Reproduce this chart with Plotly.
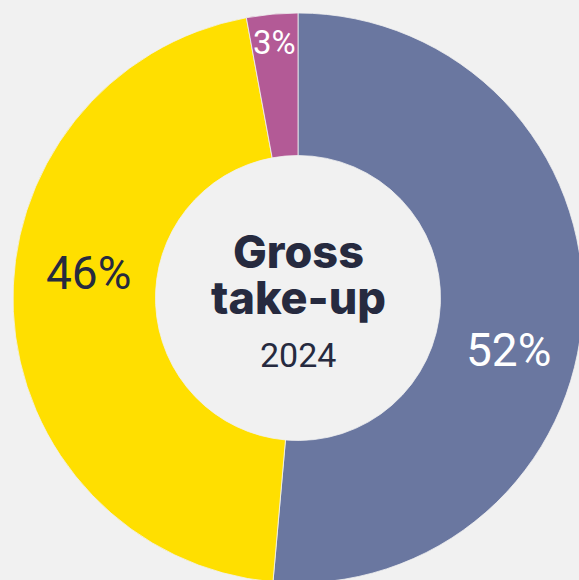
import plotly.graph_objects as go

categories = ["Segment A", "Segment B", "Segment C"]
values = [51.4, 45.7, 2.9]
labels_text = ["52%", "46%", "3%"]
colors = ["#6a77a0", "#ffdf00", "#b35a96"]
label_colors = ["#ffffff", "#262a3f", "#ffffff"]
label_sizes = [46, 46, 33]
# label anchor points in picture pixels (x, y from top)
label_px = [(508, 350), (88, 273), (274, 42)]
title_lines = ["Gross", "take-up"]
subtitle = "2024"

W, H = 600, 600
cx, cy, R = 298, 298, 285

fig = go.Figure(go.Pie(
    labels=categories,
    values=values,
    hole=0.5,
    sort=False,
    direction="clockwise",
    rotation=0,
    marker=dict(colors=colors, line=dict(color="#f1f1f1", width=0.8)),
    textinfo="none",
    hoverinfo="label+percent",
    showlegend=False,
    domain=dict(x=[(cx - R) / W, (cx + R) / W],
                y=[(H - cy - R) / H, (H - cy + R) / H]),
))

annotations = []
for t, c, s, (px, py) in zip(labels_text, label_colors, label_sizes, label_px):
    annotations.append(dict(
        x=px / W, y=1 - py / H, xref="paper", yref="paper",
        text=t, showarrow=False, font=dict(family="Roboto", size=s, color=c),
        xanchor="center", yanchor="middle"))

for line, py in zip(title_lines, [252, 298]):
    annotations.append(dict(
        x=cx / W, y=1 - py / H, xref="paper", yref="paper",
        text=line, showarrow=False,
        font=dict(family="Inter", size=45, color="#262a3f", weight=800),
        xanchor="center", yanchor="middle", borderpad=0))
annotations.append(dict(
    x=cx / W, y=1 - 355 / H, xref="paper", yref="paper",
    text=subtitle, showarrow=False,
    font=dict(family="Roboto", size=34, color="#262a3f"),
    xanchor="center", yanchor="middle"))

fig.update_layout(
    width=W, height=H,
    margin=dict(l=0, r=0, t=0, b=0),
    paper_bgcolor="#f1f1f1",
    plot_bgcolor="#f1f1f1",
    annotations=annotations,
)

fig.write_html(
    "out.html",
    post_script="document.body.style.margin='0';document.body.style.overflow='hidden';"
                "document.documentElement.style.overflow='hidden';",
)
